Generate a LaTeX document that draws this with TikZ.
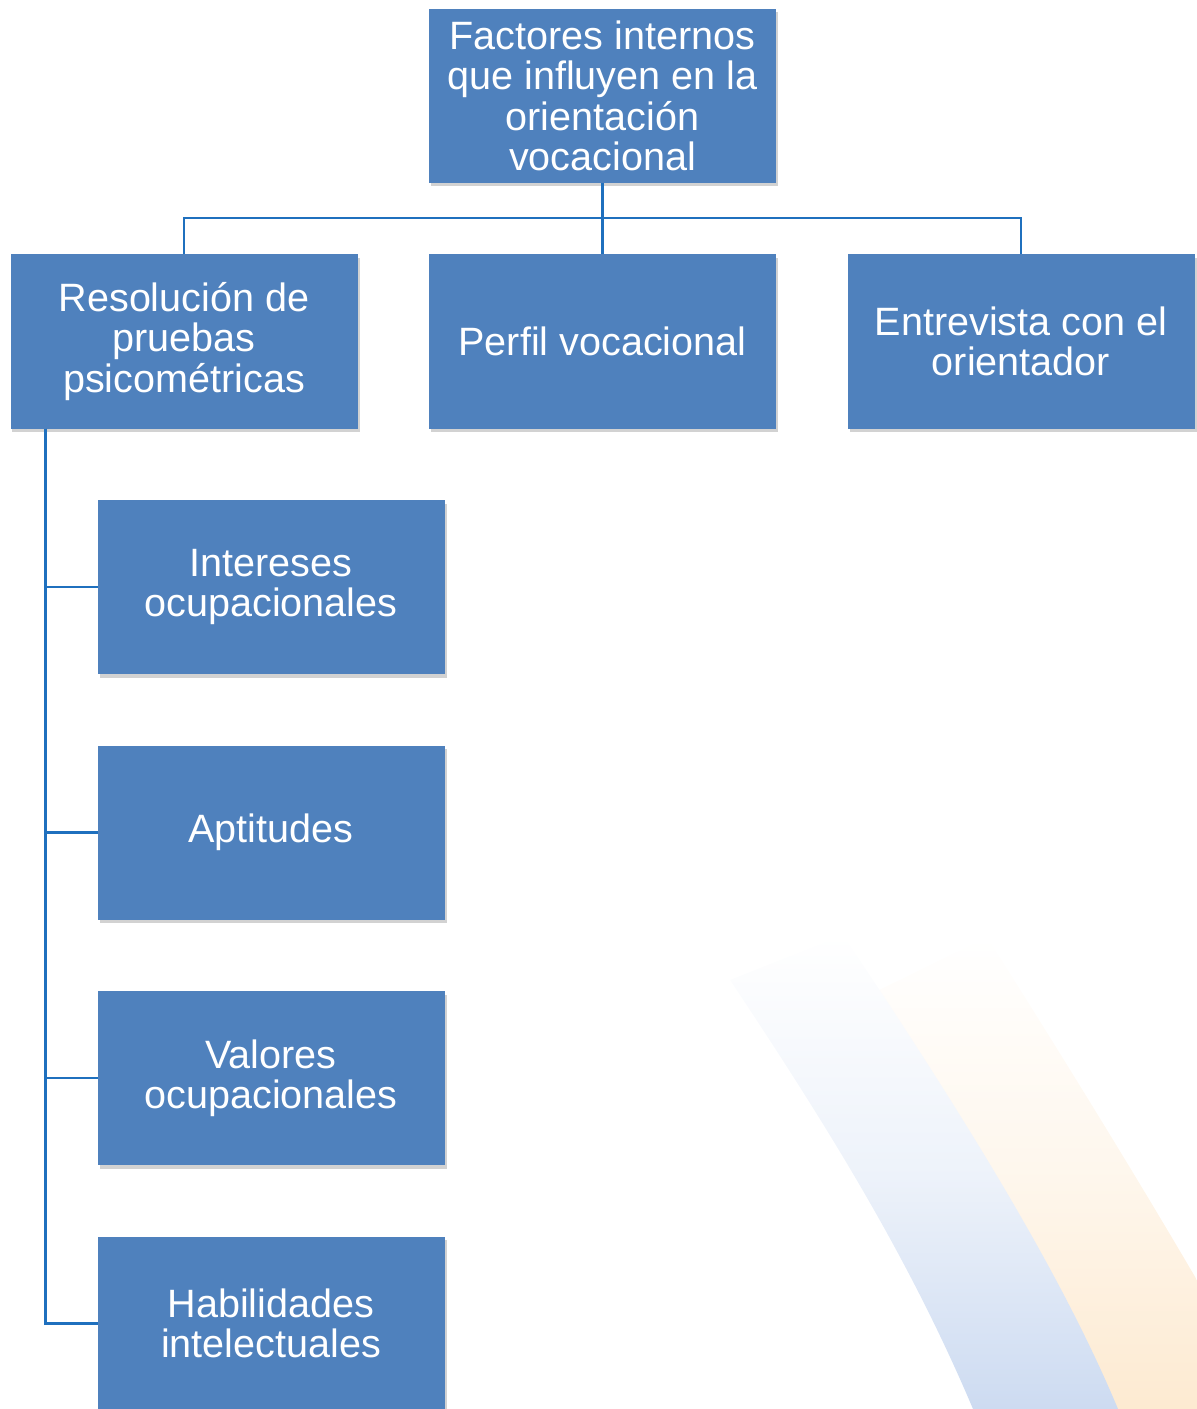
\documentclass[tikz,border=0pt]{standalone}
\usepackage{fontspec}
\setmainfont{Liberation Sans}
\usetikzlibrary{positioning, shadows}
\definecolor{boxblue}{RGB}{79,129,189}
\definecolor{lineblue}{RGB}{31,112,190}
\definecolor{swblue}{RGB}{205,219,241}
\definecolor{sworange}{RGB}{253,234,209}

\begin{document}
\begin{tikzpicture}[
box/.style = {% blue boxes
    fill=boxblue, text=white, align=center, inner sep=2pt, outer sep=0pt,
    minimum width=6.94cm, minimum height=3.48cm,
    font=\fontsize{22.5}{23}\selectfont,
    drop shadow={shadow xshift=0.04cm, shadow yshift=-0.07cm,
                 opacity=0.25, fill=black!70},
            },
link/.style = {draw=lineblue, line width=1.2pt},
node distance = 1.43cm,
                        ]
\useasboundingbox (0,0) rectangle (23.94,-28.18);
% background bands
\begin{scope}
\clip (0,0) rectangle (23.94,-28.18);
\shade[top color=white, bottom color=sworange, middle color=sworange!40!white]
    (17.46,-19.86) -- (19.74,-18.74)
    .. controls (21.8,-22.0) and (24.0,-25.6) .. (25.4,-28.18)
    -- (22.0,-28.18) -- cycle;
\shade[top color=white, bottom color=swblue, middle color=swblue!35!white]
    (14.6,-19.6) -- (16.86,-18.7)
    .. controls (19.2,-22.2) and (21.2,-25.4) .. (22.36,-28.18)
    -- (19.46,-28.18)
    .. controls (18.2,-25.2) and (16.6,-22.6) .. (14.6,-19.6) -- cycle;
\end{scope}
% boxes
\node[box] (top) at (12.05,-1.92)
    {Factores internos\\que influyen en la\\orientación\\vocacional};
\node[box, below=of top] (perfil) {Perfil vocacional};
\node[box, left=of perfil] (pruebas) {Resolución de\\pruebas\\psicométricas};
\node[box, right=of perfil] (entrevista) {Entrevista con el\\orientador};
\node[box, below=of pruebas, xshift=1.74cm] (intereses) {Intereses\\ocupacionales};
\node[box, below=of intereses] (aptitudes) {Aptitudes};
\node[box, below=of aptitudes] (valores) {Valores\\ocupacionales};
\node[box, below=of valores] (habilidades) {Habilidades\\intelectuales};
% links
\coordinate (bar) at ([yshift=-0.7cm]top.south);
\draw[link] (top.south) -- (perfil.north);
\draw[link] (pruebas.north) |- (bar) -| (entrevista.north);
\foreach \c in {intereses, aptitudes, valores, habilidades}
    {\draw[link] ([xshift=0.7cm]pruebas.south west) |- (\c.west);}
\end{tikzpicture}
\end{document}
